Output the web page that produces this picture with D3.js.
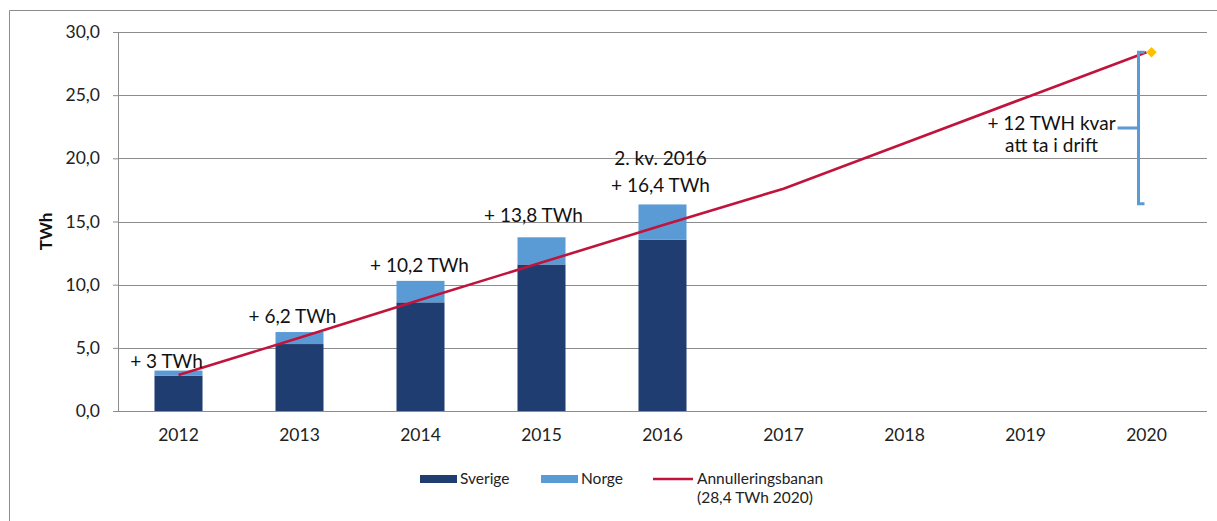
<!DOCTYPE html>
<html>
<head>
<meta charset="utf-8">
<script src="https://cdn.jsdelivr.net/npm/d3@7"></script>
<style>
  body { margin: 0; background: #fff; }
  svg { display: block; font-family: Lato, "Open Sans", sans-serif; }
</style>
</head>
<body>
<div id="chart"></div>
<script>
// data
const years = ["2012", "2013", "2014", "2015", "2016", "2017", "2018", "2019", "2020"];
const sverige = [2.8, 5.3, 8.6, 11.6, 13.55, null, null, null, null];
const norge = [0.4, 0.95, 1.7, 2.15, 2.8, null, null, null, null];
const banan = [2.85, 5.8, 8.8, 11.75, 14.7, 17.6, 21.2, 24.8, 28.4];
const barLabels = [["+ 3 TWh"], ["+ 6,2 TWh"], ["+ 10,2 TWh"], ["+ 13,8 TWh"], ["2. kv. 2016", "+ 16,4 TWh"]];
const yTicks = [0, 5, 10, 15, 20, 25, 30];
const bracketFrom = 16.4, bracketTo = 28.4;
const bracketText = ["+ 12 TWH kvar", "att ta i drift"];

// layout
const WIDTH = 1217, HEIGHT = 521;
const plot = { left: 118, right: 1207, top: 32, bottom: 411 };
// nudges for bar labels [dx, dy above bar top]
const labelNudge = [[-12, 9], [-7, 16], [-1, 16], [-8, 22], [-2, 19]];

const colors = { sverige: "#1F3D71", norge: "#5B9BD5", line: "#C0143C", marker: "#FFC000", grid: "#8C8C8C", text: "#222" };

const svg = d3.select("#chart").append("svg").attr("width", WIDTH).attr("height", HEIGHT);

// outer frame (only top and left edges are inside the picture)
svg.append("path")
  .attr("d", `M9.5,${HEIGHT} V10.5 H${WIDTH}`)
  .attr("fill", "none").attr("stroke", "#8C8C8C").attr("stroke-width", 1);

const x = d3.scaleBand().domain(years).range([plot.left, plot.right]).paddingInner(0).paddingOuter(0);
const y = d3.scaleLinear().domain([0, 30]).range([plot.bottom, plot.top]);
const barW = 48;

// gridlines + y axis
const yAxis = d3.axisLeft(y).tickValues(yTicks).tickSize(5)
  .tickFormat(d => d3.format(".1f")(d).replace(".", ","));
const gy = svg.append("g").attr("transform", `translate(${plot.left},0)`).call(yAxis);
gy.select(".domain").attr("stroke", colors.grid).attr("d", `M0.5,${plot.top} V${plot.bottom}`);
gy.selectAll(".tick line").attr("stroke", colors.grid);
gy.selectAll(".tick text").attr("x", -18).attr("font-size", 17.5).attr("fill", colors.text)
  .attr("font-family", "Lato");

svg.append("g").selectAll("line").data(yTicks).join("line")
  .attr("x1", plot.left).attr("x2", plot.right)
  .attr("y1", d => Math.round(y(d)) + 0.5).attr("y2", d => Math.round(y(d)) + 0.5)
  .attr("stroke", colors.grid).attr("stroke-width", 1);

// x axis labels
const xAxis = d3.axisBottom(x).tickSize(0).tickPadding(18);
const gx = svg.append("g").attr("transform", `translate(0,${plot.bottom})`).call(xAxis);
gx.select(".domain").remove();
gx.selectAll(".tick text").attr("font-size", 17.5).attr("fill", colors.text).attr("font-family", "Lato");

// y title
svg.append("text")
  .attr("transform", `translate(52,${(plot.top + plot.bottom) / 2 + 10}) rotate(-90)`)
  .attr("text-anchor", "middle").attr("font-weight", "bold").attr("font-size", 17)
  .attr("fill", "#111").text("TWh");

// stacked bars
const rows = years.map((yr, i) => ({ year: yr, sverige: sverige[i], norge: norge[i] }))
  .filter(d => d.sverige != null);
const stack = d3.stack().keys(["sverige", "norge"])(rows);
svg.append("g").selectAll("g").data(stack).join("g")
  .attr("fill", s => colors[s.key])
  .selectAll("rect").data(s => s).join("rect")
  .attr("x", d => x(d.data.year) + x.bandwidth() / 2 - barW / 2)
  .attr("width", barW)
  .attr("y", d => y(d[1]))
  .attr("height", d => y(d[0]) - y(d[1]));

// line
const line = d3.line()
  .x((d, i) => x(years[i]) + x.bandwidth() / 2)
  .y(d => y(d));
svg.append("path").datum(banan)
  .attr("d", line).attr("fill", "none")
  .attr("stroke", colors.line).attr("stroke-width", 2.6);

// 2020 marker
const last = banan.length - 1;
const mx = x(years[last]) + x.bandwidth() / 2 + 5, my = y(banan[last]);
svg.append("path")
  .attr("d", d3.symbol(d3.symbolDiamond2, 70)())
  .attr("transform", `translate(${mx},${my})`)
  .attr("fill", colors.marker);

// bar labels
rows.forEach((d, i) => {
  const cx = x(d.year) + x.bandwidth() / 2 + labelNudge[i][0];
  const top = y(d.sverige + d.norge) - labelNudge[i][1];
  const lines = barLabels[i];
  lines.forEach((t, j) => {
    svg.append("text")
      .attr("x", cx).attr("y", top - (lines.length - 1 - j) * 27)
      .attr("dy", "0.35em").attr("text-anchor", "middle")
      .attr("font-size", 19).attr("fill", "#111").text(t);
  });
});

// bracket for the remaining volume
const bx = x(years[last]) + x.bandwidth() / 2 - 8;
const b1 = y(bracketTo), b2 = y(bracketFrom), bm = (b1 + b2) / 2;
svg.append("path")
  .attr("d", `M${bx + 6},${b1} H${bx} V${b2} H${bx + 6} M${bx},${bm} H${bx - 21}`)
  .attr("fill", "none").attr("stroke", colors.norge).attr("stroke-width", 3);
bracketText.forEach((t, j) => {
  svg.append("text")
    .attr("x", bx - 87).attr("y", bm - 5 + j * 22)
    .attr("dy", "0.35em").attr("text-anchor", "middle")
    .attr("font-size", 19).attr("fill", "#111").text(t);
});

// legend
const legend = svg.append("g").attr("font-size", 15.5).attr("fill", "#222");
const legItems = [
  { key: "sverige", label: ["Sverige"], x: 420 },
  { key: "norge", label: ["Norge"], x: 541 },
  { key: "line", label: ["Annulleringsbanan", "(28,4 TWh 2020)"], x: 653 }
];
legItems.forEach(it => {
  const g = legend.append("g").attr("transform", `translate(${it.x},479)`);
  if (it.key === "line") {
    g.append("line").attr("x1", 0).attr("x2", 40).attr("y1", 0).attr("y2", 0)
      .attr("stroke", colors.line).attr("stroke-width", 2.5);
  } else {
    g.append("rect").attr("x", 0).attr("y", -4).attr("width", 37).attr("height", 8)
      .attr("fill", colors[it.key]);
  }
  it.label.forEach((t, j) => {
    g.append("text").attr("x", it.key === "line" ? 44 : 40).attr("y", j * 19)
      .attr("dy", "0.35em").text(t);
  });
});
</script>
</body>
</html>
